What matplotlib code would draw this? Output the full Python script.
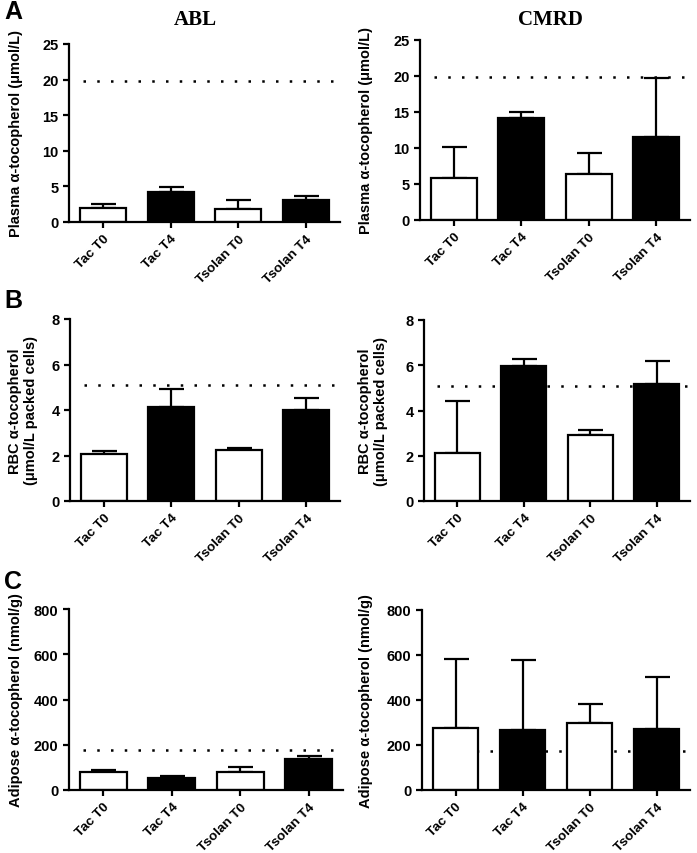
import numpy as np
import matplotlib.pyplot as plt

plt.rcParams['font.family'] = ['Liberation Sans', 'DejaVu Sans']
plt.rcParams['font.weight'] = 'bold'

groups = ['Tac T0', 'Tac T4', 'Tsolan T0', 'Tsolan T4']
fills = ['white', 'black', 'white', 'black']

# plasma (umol/L)
abl_plasma = [1.95, 4.15, 1.85, 3.1]
abl_plasma_err = [0.6, 0.75, 1.2, 0.5]
cmrd_plasma = [5.8, 14.1, 6.45, 11.55]
cmrd_plasma_err = [4.3, 0.85, 2.85, 8.2]
plasma_ref = 19.8

# RBC (umol/L packed cells)
abl_rbc = [2.05, 4.12, 2.25, 4.02]
abl_rbc_err = [0.14, 0.82, 0.1, 0.5]
cmrd_rbc = [2.12, 5.95, 2.9, 5.17]
cmrd_rbc_err = [2.28, 0.32, 0.24, 1.02]
rbc_ref = 5.08

# adipose (nmol/g)
abl_adi = [81, 52, 81, 138]
abl_adi_err = [8, 8, 22, 14]
cmrd_adi = [276, 267, 296, 272]
cmrd_adi_err = [305, 309, 86, 229]
adi_ref = 175

W, H = 697, 854
fig = plt.figure(figsize=(W / 100, H / 100), dpi=100)


def axes_px(x0, x1, top, bottom):
    return fig.add_axes([x0 / W, 1 - bottom / H, (x1 - x0) / W, (bottom - top) / H])


def panel(ax, vals, errs, ref, ymax, step, ylabel, lab_right):
    x = np.arange(len(groups))
    ax.axhline(ref, xmin=0.05, xmax=1, color='black', linestyle=(0, (1, 4.5)),
               linewidth=1.8, zorder=1)
    ax.bar(x, vals, width=0.68, color=fills, edgecolor='black', linewidth=1.6, zorder=2)
    ax.errorbar(x, vals, yerr=[np.zeros(len(vals)), errs], fmt='none', ecolor='black',
                elinewidth=1.6, capsize=9, capthick=1.6, zorder=1.5)
    ax.set_xlim(-0.5, 3.5)
    ax.set_ylim(0, ymax)
    ax.set_yticks(np.arange(0, ymax + 0.01, step))
    ax.set_xticks(x)
    ax.set_xticklabels(groups, rotation=45, ha='right', rotation_mode='anchor', fontsize=9.7)
    ax.tick_params(axis='y', labelsize=10.5, width=1.6, length=4)
    ax.tick_params(axis='x', width=1.6, length=4)
    for s in ['top', 'right']:
        ax.spines[s].set_visible(False)
    for s in ['left', 'bottom']:
        ax.spines[s].set_linewidth(1.6)
    ax.set_ylabel(ylabel, fontsize=10.5, fontweight='bold')
    # place the label by its right edge, in figure pixels
    bb = ax.get_position()
    ax.yaxis.set_label_coords((lab_right / W - bb.x0) / bb.width, 0.5)


plab = 'Plasma \u03b1-tocopherol (\u03bcmol/L)'
rlab = 'RBC \u03b1-tocopherol\n(\u03bcmol/L packed cells)'
alab = 'Adipose \u03b1-tocopherol (nmol/g)'

ax = axes_px(69, 340, 45, 223)
panel(ax, abl_plasma, abl_plasma_err, plasma_ref, 25, 5, plab, 23)
ax = axes_px(420, 690, 41, 221)
panel(ax, cmrd_plasma, cmrd_plasma_err, plasma_ref, 25, 5, plab, 373)

ax = axes_px(70, 340, 320, 502)
panel(ax, abl_rbc, abl_rbc_err, rbc_ref, 8, 2, rlab, 38)
ax = axes_px(424, 690, 321, 502)
panel(ax, cmrd_rbc, cmrd_rbc_err, rbc_ref, 8, 2, rlab, 388)

ax = axes_px(69, 343, 610, 791)
panel(ax, abl_adi, abl_adi_err, adi_ref, 800, 200, alab, 23)
ax = axes_px(422, 690, 611, 791)
panel(ax, cmrd_adi, cmrd_adi_err, adi_ref, 800, 200, alab, 373)

fig.text(195 / W, 1 - 20 / H, 'ABL', family='Liberation Serif', fontsize=15,
         fontweight='bold', ha='center', va='center')
fig.text(550 / W, 1 - 20 / H, 'CMRD', family='Liberation Serif', fontsize=15,
         fontweight='bold', ha='center', va='center')
for lab, yy in [('A', 12), ('B', 301), ('C', 582)]:
    fig.text(4 / W, 1 - yy / H, lab, fontsize=18, fontweight='bold', ha='left', va='center')

fig.savefig('out.png', dpi=100)
